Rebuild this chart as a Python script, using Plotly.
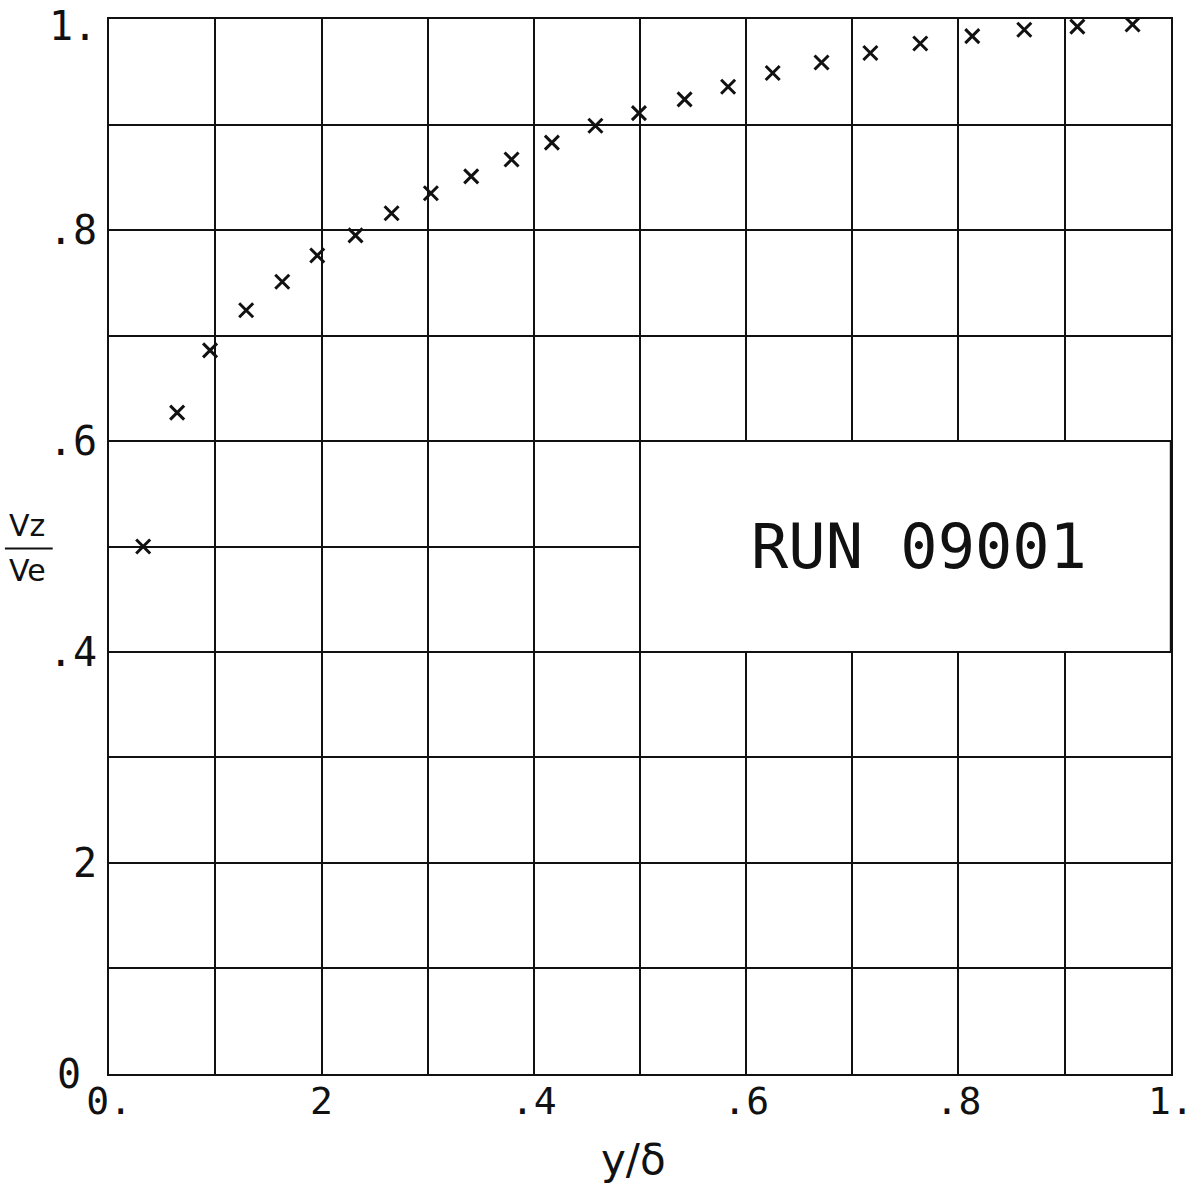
import plotly.graph_objects as go

# Velocity profile samples: y/delta vs Vz/Ve
y_over_delta = [0.032, 0.064, 0.095, 0.129, 0.163, 0.196, 0.232, 0.266,
                0.303, 0.341, 0.379, 0.417, 0.458, 0.499, 0.542, 0.583,
                0.625, 0.671, 0.717, 0.764, 0.813, 0.862, 0.912, 0.964]
vz_over_ve = [0.500, 0.627, 0.686, 0.724, 0.751, 0.776, 0.795, 0.816,
              0.835, 0.851, 0.867, 0.883, 0.899, 0.911, 0.924, 0.936,
              0.949, 0.959, 0.968, 0.977, 0.984, 0.990, 0.993, 0.995]

x_tick_vals = [0.0, 0.2, 0.4, 0.6, 0.8, 1.0]
x_tick_text = ["0.", "2", ".4", ".6", ".8", "1."]
# inner y labels come from the axis; the two end labels are placed by hand
y_tick_vals = [0.2, 0.4, 0.6, 0.8]
y_tick_text = ["2", ".4", ".6", ".8"]
y_end_vals = [0.0, 1.0]
y_end_text = ["0", "1."]

run_label = "RUN 09001"

FONT = "DejaVu Sans Mono"
INK = "#111111"

fig = go.Figure()
fig.add_trace(go.Scatter(
    x=y_over_delta, y=vz_over_ve, mode="markers",
    marker=dict(symbol="x-thin", size=14, color=INK,
                line=dict(width=3, color=INK)),
    showlegend=False, hoverinfo="skip",
))

axis_common = dict(
    range=[-0.0002, 1.0002], showgrid=True, gridcolor=INK, gridwidth=2,
    showline=True, linecolor=INK, linewidth=2, mirror=True,
    zeroline=False, ticks="", tickmode="array",
    ticklabeloverflow="allow", automargin=False,
)
fig.update_xaxes(**axis_common, tickvals=x_tick_vals, ticktext=x_tick_text,
                 ticklabelstandoff=-8,
                 tickfont=dict(family=FONT, size=38, color=INK))
fig.update_yaxes(**axis_common, tickvals=y_tick_vals, ticktext=y_tick_text,
                 ticklabelstandoff=2,
                 tickfont=dict(family=FONT, size=40, color=INK))
# grid lines every 0.1 while labels only every 0.2
grid_minor = dict(tickvals=[0.1, 0.3, 0.5, 0.7, 0.9], showgrid=True,
                  gridcolor=INK, gridwidth=2, ticks="")
fig.update_xaxes(minor=grid_minor)
fig.update_yaxes(minor=grid_minor)

# y-axis labels at the bottom and top of the frame
fig.add_annotation(x=0, y=y_end_vals[0], xref="paper", yref="y",
                   text=y_end_text[0], showarrow=False,
                   xanchor="right", yanchor="middle", xshift=-26,
                   font=dict(family=FONT, size=40, color=INK))
fig.add_annotation(x=0, y=y_end_vals[1], xref="paper", yref="y",
                   text=y_end_text[1], showarrow=False,
                   xanchor="right", yanchor="top", xshift=-10, yshift=18,
                   font=dict(family=FONT, size=40, color=INK))

# blank label panel in the lower-right part of the grid
fig.add_shape(type="rect", xref="x", yref="y", x0=0.5, x1=1.0, y0=0.4, y1=0.6,
              fillcolor="white", line=dict(color=INK, width=2), layer="between")
fig.add_annotation(x=0.763, y=0.5, xref="x", yref="y", text=run_label,
                   showarrow=False, xanchor="center", yanchor="middle",
                   font=dict(family=FONT, size=62, color=INK))

# axis titles
fig.add_annotation(x=0.494, y=-0.081, xref="x", yref="paper", text="y/δ",
                   showarrow=False, xanchor="center", yanchor="middle",
                   font=dict(family="DejaVu Sans", size=42, color=INK))
fig.add_annotation(x=-0.077, y=0.52, xref="paper", yref="paper", text="Vz",
                   showarrow=False, xanchor="center", yanchor="middle",
                   font=dict(family="DejaVu Sans", size=30, color=INK))
fig.add_annotation(x=-0.077, y=0.477, xref="paper", yref="paper", text="Ve",
                   showarrow=False, xanchor="center", yanchor="middle",
                   font=dict(family="DejaVu Sans", size=30, color=INK))
fig.add_shape(type="line", xref="paper", yref="paper",
              x0=-0.098, x1=-0.053, y0=0.498, y1=0.498,
              line=dict(color=INK, width=2))

fig.update_layout(
    width=1195, height=1183,
    margin=dict(l=109, r=24, t=19, b=109),
    paper_bgcolor="white", plot_bgcolor="white",
)

fig.write_html("out.html")
